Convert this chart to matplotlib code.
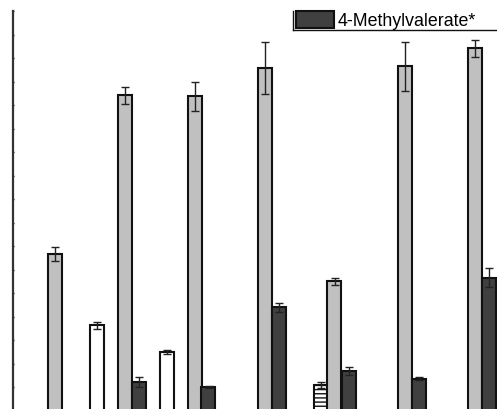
import numpy as np
import matplotlib
matplotlib.use("Agg")
from matplotlib import pyplot as plt
from matplotlib.lines import Line2D

plt.rcParams['font.family'] = ['Liberation Sans', 'DejaVu Sans']
plt.rcParams['hatch.linewidth'] = 1.0

# 7 groups, 4 series (axis labels are cropped away in the reference)
groups = np.arange(7)
nan = np.nan

white_vals = [nan, 36.2, 24.8, nan, nan, nan, nan]
white_err = [nan, 1.4, 0.9, nan, nan, nan, nan]

hatched_vals = [nan, nan, nan, nan, 10.7, nan, nan]
hatched_err = [nan, nan, nan, nan, 1.3, nan, nan]

gray_vals = [66.6, 134.1, 133.7, 145.9, 55.0, 146.5, 154.1]
gray_err = [3.0, 3.6, 6.3, 11.1, 1.5, 10.5, 3.5]

dark_vals = [nan, 12.0, 10.0, 43.9, 16.7, 13.5, 56.5]
dark_err = [nan, 2.2, 0.3, 2.0, 1.6, 0.7, 4.0]
dark_label = "4-Methylvalerate*"

W, H = 497, 409
fig = plt.figure(figsize=(W / 100, H / 100), dpi=100)
# the reference is a crop: the axes run off the right and bottom edges
ax = fig.add_axes([12.5 / W, -1.5 / H, 490 / W, (H - 11 + 1.5) / H])

w = 0.2
bar_kw = dict(width=w, edgecolor='#111111', linewidth=1.5, zorder=2)
err_kw = dict(ecolor='#222222', elinewidth=1.0, capsize=3, capthick=1.0)

ax.bar(groups - 1.5 * w, white_vals, color='white', yerr=white_err,
       error_kw=err_kw, **bar_kw)
ax.bar(groups - 0.5 * w, hatched_vals, color='white', hatch='----',
       yerr=hatched_err, error_kw=err_kw, **bar_kw)
ax.bar(groups + 0.5 * w, gray_vals, color='#c0c0c0', yerr=gray_err,
       error_kw=err_kw, **bar_kw)
dark = ax.bar(groups + 1.5 * w, dark_vals, color='#404040', yerr=dark_err,
              error_kw=err_kw, label=dark_label, **bar_kw)

ax.set_xlim(-0.5, 6.5)
ax.set_ylim(0, 170)
ax.set_yticks(np.arange(0, 171, 10))
ax.set_yticklabels([])
ax.set_xticks([])
ax.tick_params(axis='y', direction='inout', length=2, width=1, color='#222222')
for s in ['top', 'right', 'bottom']:
    ax.spines[s].set_visible(False)
ax.spines['left'].set_linewidth(1.6)
ax.spines['left'].set_color('#333333')

# legend (only this entry is visible in the crop)
leg = fig.legend(handles=[dark], labels=[dark_label], loc='upper left',
                 bbox_to_anchor=(295.5 / W, 1 - 11 / H),
                 bbox_transform=fig.transFigure, frameon=False,
                 fontsize=12.8, borderpad=0, borderaxespad=0,
                 handlelength=2.15, handleheight=1.1, handletextpad=0.22)
fig.add_artist(Line2D([292.5 / W, 1.0], [1 - 29.5 / H] * 2,
                      transform=fig.transFigure, color='#111111', lw=1.0))
fig.add_artist(Line2D([292.5 / W] * 2, [1 - 11 / H, 1 - 29.5 / H],
                      transform=fig.transFigure, color='#111111', lw=1.0))

fig.savefig("out.png", dpi=100)
